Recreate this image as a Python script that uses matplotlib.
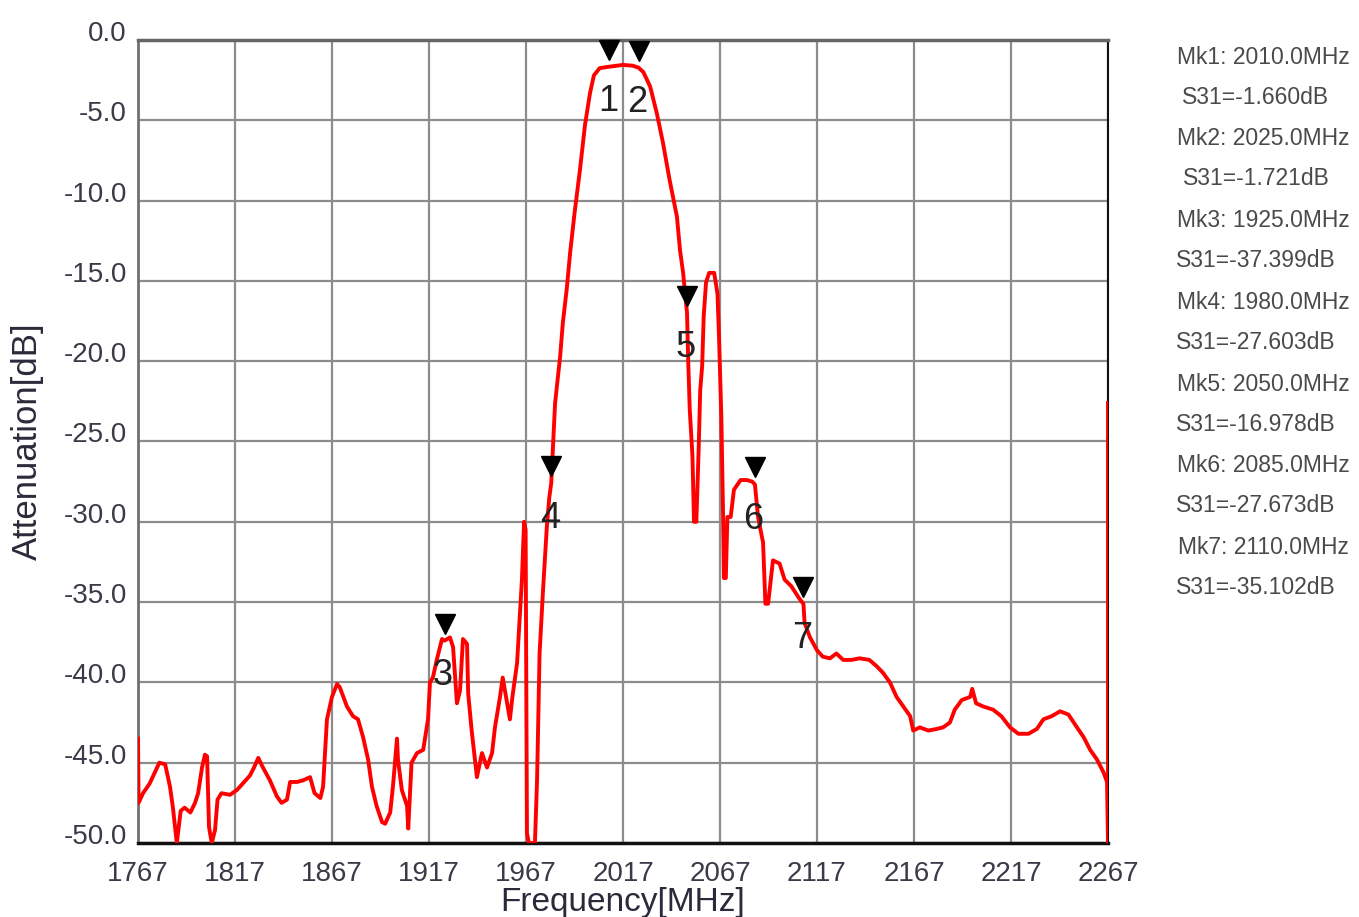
import matplotlib
matplotlib.use("Agg")
import matplotlib.pyplot as plt
import matplotlib.transforms as mtransforms

plt.rcParams['font.family'] = ['Liberation Sans', 'DejaVu Sans']
plt.rcParams['axes.unicode_minus'] = False

# S31 sweep, frequency in MHz, attenuation in dB
freq = [
    1767.0, 1767.3, 1769.6, 1773.0, 1778.0, 1781.0, 1783.5, 1785.0, 1787.0, 1789.0,
    1791.0, 1794.0, 1796.4, 1798.0, 1800.0, 1801.5, 1802.6, 1803.6, 1805.0, 1806.7,
    1808.0, 1810.0, 1814.4, 1818.0, 1821.0, 1824.7, 1826.8, 1829.0, 1831.4, 1835.0,
    1838.6, 1841.0, 1843.8, 1845.4, 1849.0, 1852.0, 1855.7, 1858.0, 1861.0, 1862.4,
    1864.4, 1867.0, 1869.6, 1871.0, 1874.7, 1877.8, 1880.4, 1883.0, 1885.6, 1887.6,
    1890.0, 1892.8, 1894.4, 1897.0, 1898.4, 1900.5, 1901.0, 1903.0, 1905.7, 1906.3,
    1908.0, 1910.8, 1914.0, 1916.5, 1917.5, 1919.0, 1921.0, 1923.7, 1925.0, 1927.8,
    1929.4, 1931.4, 1933.0, 1934.5, 1936.6, 1937.2, 1939.0, 1941.7, 1944.3, 1946.9,
    1949.5, 1951.0, 1953.6, 1955.0, 1956.7, 1958.7, 1960.0, 1962.4, 1963.4, 1964.9,
    1966.0, 1966.8, 1967.5, 1968.5, 1971.6, 1972.7, 1974.0, 1975.8, 1977.8, 1979.0,
    1980.0, 1982.0, 1984.6, 1986.0, 1988.0, 1989.7, 1992.0, 1994.8, 1997.4, 2000.0,
    2002.0, 2005.0, 2010.0, 2017.0, 2022.0, 2025.0, 2027.5, 2031.0, 2034.5, 2037.6,
    2041.0, 2044.8, 2046.4, 2048.0, 2049.0, 2050.0, 2050.6, 2051.4, 2052.8, 2053.6,
    2054.8, 2056.0, 2056.8, 2057.8, 2058.6, 2059.8, 2061.4, 2064.0, 2065.7, 2066.5,
    2067.7, 2068.6, 2069.0, 2070.0, 2070.8, 2072.5, 2074.2, 2077.6, 2081.0, 2083.6,
    2085.0, 2086.6, 2089.2, 2090.4, 2091.8, 2094.3, 2097.7, 2100.3, 2103.7, 2108.0,
    2110.0, 2110.6, 2113.4, 2117.0, 2120.0, 2123.7, 2127.0, 2130.5, 2134.8, 2139.0,
    2144.0, 2147.8, 2151.0, 2154.6, 2158.0, 2161.5, 2165.0, 2166.6, 2170.0, 2174.4,
    2178.6, 2182.0, 2185.5, 2188.0, 2191.6, 2196.0, 2197.0, 2199.0, 2202.7, 2207.8,
    2212.0, 2216.5, 2220.8, 2226.0, 2230.3, 2233.7, 2238.0, 2242.3, 2246.6, 2251.0,
    2254.4, 2257.8, 2261.3, 2264.7, 2266.5, 2267.0, 2267.0,
]
s31 = [
    -43.5, -47.5, -46.9, -46.3, -45.0, -45.1, -46.5, -47.8, -50.0, -48.0,
    -47.8, -48.1, -47.5, -46.9, -45.3, -44.5, -44.6, -49.0, -50.0, -49.2,
    -47.3, -46.9, -47.0, -46.7, -46.3, -45.8, -45.3, -44.7, -45.3, -46.1,
    -47.1, -47.5, -47.3, -46.2, -46.2, -46.1, -45.9, -46.9, -47.2, -46.5,
    -42.3, -40.9, -40.1, -40.3, -41.5, -42.1, -42.3, -43.4, -44.8, -46.5,
    -47.7, -48.7, -48.8, -48.1, -46.5, -43.5, -44.8, -46.7, -47.7, -49.1,
    -45.0, -44.4, -44.2, -42.3, -40.0, -39.7, -38.6, -37.3, -37.399, -37.2,
    -37.8, -41.3, -40.5, -37.3, -37.6, -40.7, -43.0, -45.9, -44.4, -45.3,
    -44.4, -42.8, -40.9, -39.7, -40.9, -42.3, -40.9, -38.8, -36.7, -33.6,
    -30.0, -30.5, -49.4, -50.0, -50.0, -46.1, -38.2, -34.2, -30.2, -28.5,
    -27.603, -22.6, -19.7, -17.6, -15.5, -13.3, -10.8, -8.1, -5.3, -3.3,
    -2.2, -1.75, -1.66, -1.55, -1.6, -1.721, -2.0, -2.9, -4.6, -6.4,
    -8.7, -11.0, -13.1, -14.5, -15.8, -16.978, -19.9, -23.0, -25.9, -30.0,
    -30.0, -25.5, -21.8, -20.3, -17.2, -15.1, -14.5, -14.5, -15.8, -18.5,
    -23.5, -29.7, -33.5, -33.5, -29.7, -29.7, -28.0, -27.4, -27.4, -27.5,
    -27.673, -29.7, -31.3, -35.1, -35.1, -32.4, -32.6, -33.6, -34.0, -34.8,
    -35.102, -36.3, -37.2, -38.0, -38.4, -38.5, -38.2, -38.6, -38.6, -38.5,
    -38.6, -39.0, -39.4, -40.0, -40.9, -41.5, -42.1, -43.0, -42.8, -43.0,
    -42.9, -42.8, -42.5, -41.7, -41.1, -40.9, -40.4, -41.3, -41.5, -41.7,
    -42.1, -42.8, -43.2, -43.2, -42.9, -42.3, -42.1, -41.8, -42.0, -42.8,
    -43.4, -44.2, -44.8, -45.6, -46.2, -50.0, -22.6,
]

# markers Mk1..Mk7
mk_freq = [2010.0, 2025.0, 1925.0, 1980.0, 2050.0, 2085.0, 2110.0]
mk_s31 = [-1.660, -1.721, -37.399, -27.603, -16.978, -27.673, -35.102]

xticks = [1767, 1817, 1867, 1917, 1967, 2017, 2067, 2117, 2167, 2217, 2267]
yticks = [0, -5, -10, -15, -20, -25, -30, -35, -40, -45, -50]

W, H = 1359, 917
fig = plt.figure(figsize=(W / 100, H / 100), dpi=100)
ax = fig.add_axes([138 / W, 1 - 843 / H, 970 / W, 803 / H])

ax.plot(freq, s31, color='#ff0000', lw=2.8, zorder=3)

ax.set_xlim(1767, 2267)
ax.set_ylim(-50, 0)
ax.set_xticks(xticks)
ax.set_yticks(yticks)
ax.set_yticklabels(['%.1f' % v for v in yticks])
ax.grid(True, color='#8c8c8c', lw=1.6)
ax.set_axisbelow(True)
ax.tick_params(length=0, labelsize=20, labelcolor='#3a3a48')
ax.tick_params(axis='x', pad=13)
ax.tick_params(axis='y', pad=8)

# y labels sit a little above their gridlines
shift = mtransforms.ScaledTranslation(0, 9 / 100, fig.dpi_scale_trans)
for lab in ax.get_yticklabels():
    lab.set_transform(lab.get_transform() + shift)

ax.spines['top'].set_color('#666666')
ax.spines['top'].set_linewidth(2.5)
ax.spines['left'].set_color('#707070')
ax.spines['left'].set_linewidth(2.0)
ax.spines['bottom'].set_color('#111111')
ax.spines['bottom'].set_linewidth(2.5)
ax.spines['right'].set_color('#111111')
ax.spines['right'].set_linewidth(1.5)

ax.set_xlabel('Frequency[MHz]', fontsize=24, color='#2a2a3a', labelpad=0)
ax.set_ylabel('Attenuation[dB]', fontsize=25, color='#2a2a3a', labelpad=14)

tri_shift = mtransforms.ScaledTranslation(0, 17 / 100, fig.dpi_scale_trans)
for i, (f, v) in enumerate(zip(mk_freq, mk_s31)):
    ax.plot([f], [v], marker='v', ms=15, color='black', zorder=5,
            transform=ax.transData + tri_shift, clip_on=False)
    ax.annotate(str(i + 1), xy=(f, v), xytext=(-1, -25), textcoords='offset points',
                ha='center', va='center', fontsize=26, color='#222222', zorder=6)

# marker readout column
for i, (f, v) in enumerate(zip(mk_freq, mk_s31)):
    y0 = 57 + i * 81.8
    fig.text(1263 / W, 1 - y0 / H, 'Mk%d: %.1fMHz' % (i + 1, f),
             ha='center', va='center', fontsize=16.5, color='#4a4a4a')
    fig.text(1256 / W, 1 - (y0 + 40) / H, 'S31=%.3fdB' % v,
             ha='center', va='center', fontsize=16.5, color='#4a4a4a')

fig.savefig('out.png', dpi=100, facecolor='white')
